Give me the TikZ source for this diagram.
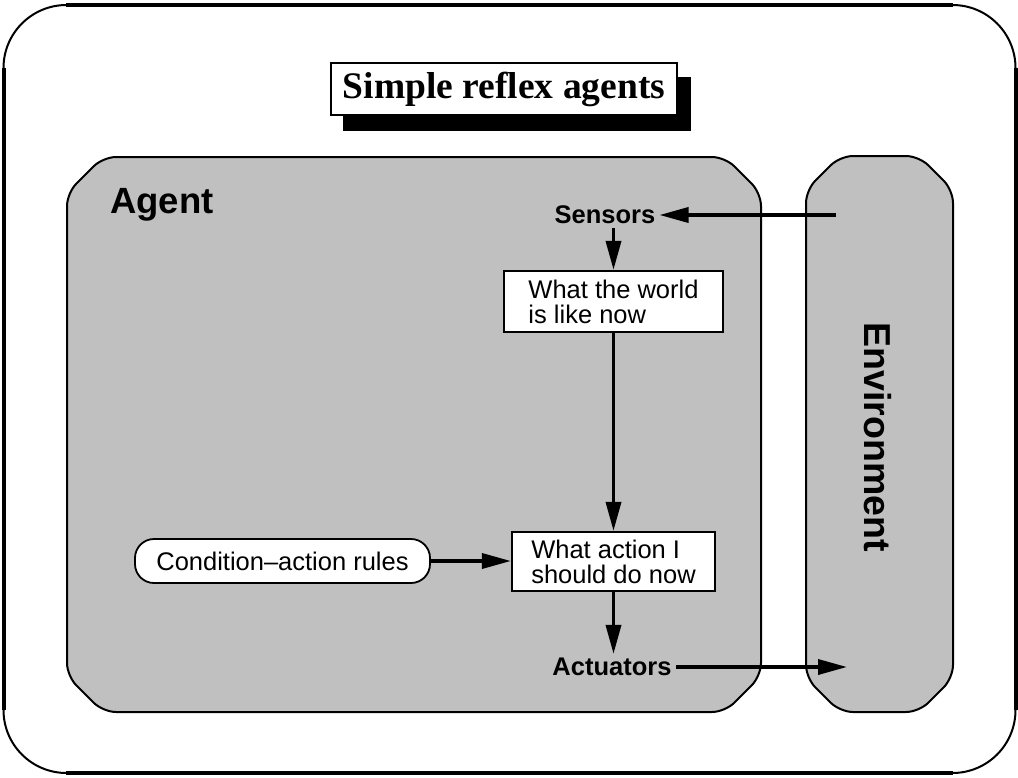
\documentclass[tikz,border=0pt]{standalone}
\usepackage{fontspec}
\setmainfont{Liberation Sans}
\newfontfamily\titlefont{Liberation Serif}
\usetikzlibrary{arrows.meta}
\definecolor{agentgray}{RGB}{192,192,192}
\newcommand{\chbox}[5]{%
  (#1+#5,#2) -- (#3-#5,#2) -- (#3,#2+#5) -- (#3,#4-#5) -- (#3-#5,#4) -- (#1+#5,#4) -- (#1,#4-#5) -- (#1,#2+#5) -- cycle}
\begin{document}
\begin{tikzpicture}[x=1pt,y=-1pt,
  panel/.style={draw=black,fill=agentgray,line width=2pt,rounded corners=13pt},
  txtbox/.style={draw=black,fill=white,line width=2.2pt,align=left,
    font=\fontsize{25.5}{25}\selectfont,inner sep=0pt},
  lbl/.style={font=\fontsize{25.5}{25}\selectfont\bfseries,inner sep=4pt},
  flow/.style={line width=3.5pt,-{Triangle[length=29pt,width=15pt]}}]
\useasboundingbox (0,0) rectangle (1018,777);
% outer frame
\draw[line width=2pt] (3.5,5) [rounded corners=63pt] -- (1015.5,5) -- (1015.5,773) -- (3.5,773) -- cycle;
\draw[line width=4pt] (66,5) -- (953,5);
\draw[line width=4pt] (66,773) -- (953,773);
\draw[line width=4pt] (3.5,68) -- (3.5,710);
\draw[line width=4pt] (1015.5,68) -- (1015.5,710);
% title
\fill[black] (343,77) rectangle (691,131);
\node[draw=black,fill=white,line width=2.5pt,minimum width=346pt,minimum height=52pt,
  inner sep=0pt,font=\titlefont\fontsize{37.5}{37.5}\selectfont\bfseries]
  (title) at (504,89) {Simple reflex agents};
% agent and environment panels
\path[panel] \chbox{67}{157}{761}{712}{36};
\path[panel] \chbox{806}{156}{953}{712}{34};
\node[anchor=base west,inner sep=0pt,font=\fontsize{36.5}{36.5}\selectfont\bfseries] (agent) at (110,213) {Agent};
\node[rotate=-90,inner sep=0pt,font=\fontsize{37.5}{37.5}\selectfont\bfseries] (env) at (878,437) {Environment};
% nodes
\node[lbl] (sensors) at (605,215) {Sensors};
\node[txtbox,minimum width=219pt,minimum height=61pt] (world) at (613.5,301.5)
  {What the world\\is like now};
\node[txtbox,minimum width=203pt,minimum height=59pt] (action) at (613.5,561.5)
  {What action I\\should do now};
\node[draw=black,fill=white,line width=1.8pt,rounded corners=19pt,minimum width=295pt,minimum height=44pt,
  inner sep=0pt,font=\fontsize{25.5}{25}\selectfont] (rules) at (282.5,561) {Condition--action rules};
\node[lbl] (actuators) at (612,667) {Actuators};
\coordinate (envin) at (836,215);
\coordinate (envout) at (847,667);
% connectors
\draw[flow] (envin) -- (sensors.east);
\draw[flow] (sensors.south -| world.north) -- (world.north);
\draw[flow] (world.south) -- (action.north);
\draw[flow] (rules.east) -- (rules.east -| action.west);
\draw[flow] (action.south) -- (action.south |- actuators.north);
\draw[flow] (actuators.east) -- (envout);
\end{tikzpicture}
\end{document}
